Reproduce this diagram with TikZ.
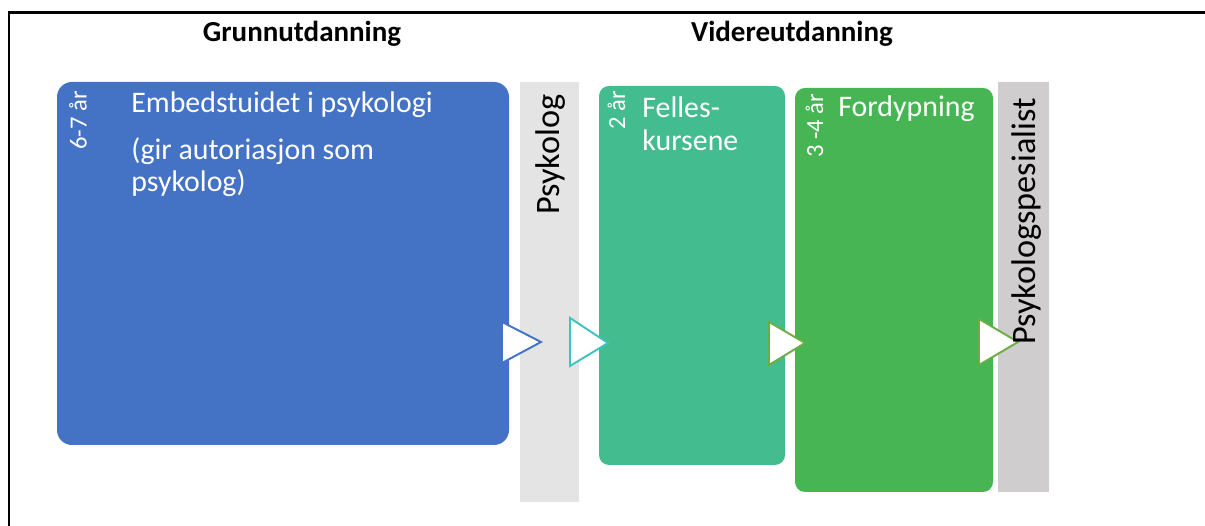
\documentclass[tikz,border=0pt]{standalone}
\usepackage{fontspec}
\setmainfont{Carlito}
\usepackage{tikz}
\usetikzlibrary{positioning}
\definecolor{grunnblue}{HTML}{4472C4}
\definecolor{fellesteal}{HTML}{43BC8F}
\definecolor{fordgreen}{HTML}{47B553}
\definecolor{barlight}{HTML}{E4E4E4}
\definecolor{bardark}{HTML}{CFCDCE}
\definecolor{trisea}{HTML}{3EC3BF}
\definecolor{trigreen}{HTML}{6AAE45}

\begin{document}
\begin{tikzpicture}[
  box/.style={minimum width=#1, inner sep=0},
  bar/.style={minimum width=#1, inner sep=0},
  head/.style={font=\fontsize{16.5}{20}\selectfont\bfseries},
  txt/.style={text=white, inner sep=0, anchor=base west, font=\fontsize{17}{20}\selectfont},
  yr/.style={text=white, inner sep=0, anchor=base west, rotate=90, font=\fontsize{14}{17}\selectfont},
  title/.style={inner sep=0, anchor=base west, rotate=90, font=\fontsize{19.5}{23}\selectfont},
  tri/.style={fill=white, line width=1.1pt, line join=miter}
]
\useasboundingbox (0,0) rectangle (24.1,10.52);
\draw[line width=1.7pt] (0.18,0) -- (0.18,10.27) -- (24.1,10.27);

\node[head] (grunnhead) at (6.04,9.84) {Grunnutdanning};
\node[head] (viderehead) at (15.84,9.84) {Videreutdanning};

% boxes and bars
\node[box=9.04cm, minimum height=7.26cm, fill=grunnblue, rounded corners=0.3cm] (grunn) at (5.66,5.25) {};
\node[bar=1.18cm, minimum height=8.40cm, fill=barlight] (psybar) at (10.99,4.68) {};
\node[box=3.72cm, minimum height=7.58cm, fill=fellesteal, rounded corners=0.2cm] (felles) at (13.84,5.01) {};
\node[box=3.96cm, minimum height=8.08cm, fill=fordgreen, rounded corners=0.2cm] (ford) at (17.88,4.72) {};
\node[bar=1.02cm, minimum height=8.20cm, fill=bardark] (spesbar) at (20.47,4.78) {};

% texts
\node[yr] (grunnyr) at (1.73,7.52) {6-7 år};
\node[txt] (grunn1) at (2.62,8.26) {Embedstuidet i psykologi};
\node[txt] (grunn2) at (2.62,7.32) {(gir autoriasjon som};
\node[txt] (grunn3) at (2.62,6.68) {psykolog)};
\node[title] (psy) at (11.18,6.22) {Psykolog};
\node[yr] (fellesyr) at (12.50,7.92) {2 år};
\node[txt] (felles1) at (12.84,8.16) {Felles-};
\node[txt] (felles2) at (12.84,7.50) {kursene};
\node[yr] (fordyr) at (16.46,7.36) {3 -4 år};
\node[txt] (ford1) at (16.76,8.18) {Fordypning};

% arrow heads
\draw[tri, draw=grunnblue] (10.04,3.26) -- (10.82,3.68) -- (10.04,4.08) -- cycle;
\draw[tri, draw=trisea] (11.40,3.20) -- (12.16,3.66) -- (11.40,4.16) -- cycle;
\draw[tri, draw=trigreen] (15.38,3.22) -- (16.10,3.66) -- (15.38,4.08) -- cycle;
\draw[tri, draw=trigreen] (19.58,3.22) -- (20.36,3.68) -- (19.58,4.14) -- cycle;

\node[title] (spes) at (20.70,3.62) {Psykologspesialist};
\end{tikzpicture}
\end{document}
